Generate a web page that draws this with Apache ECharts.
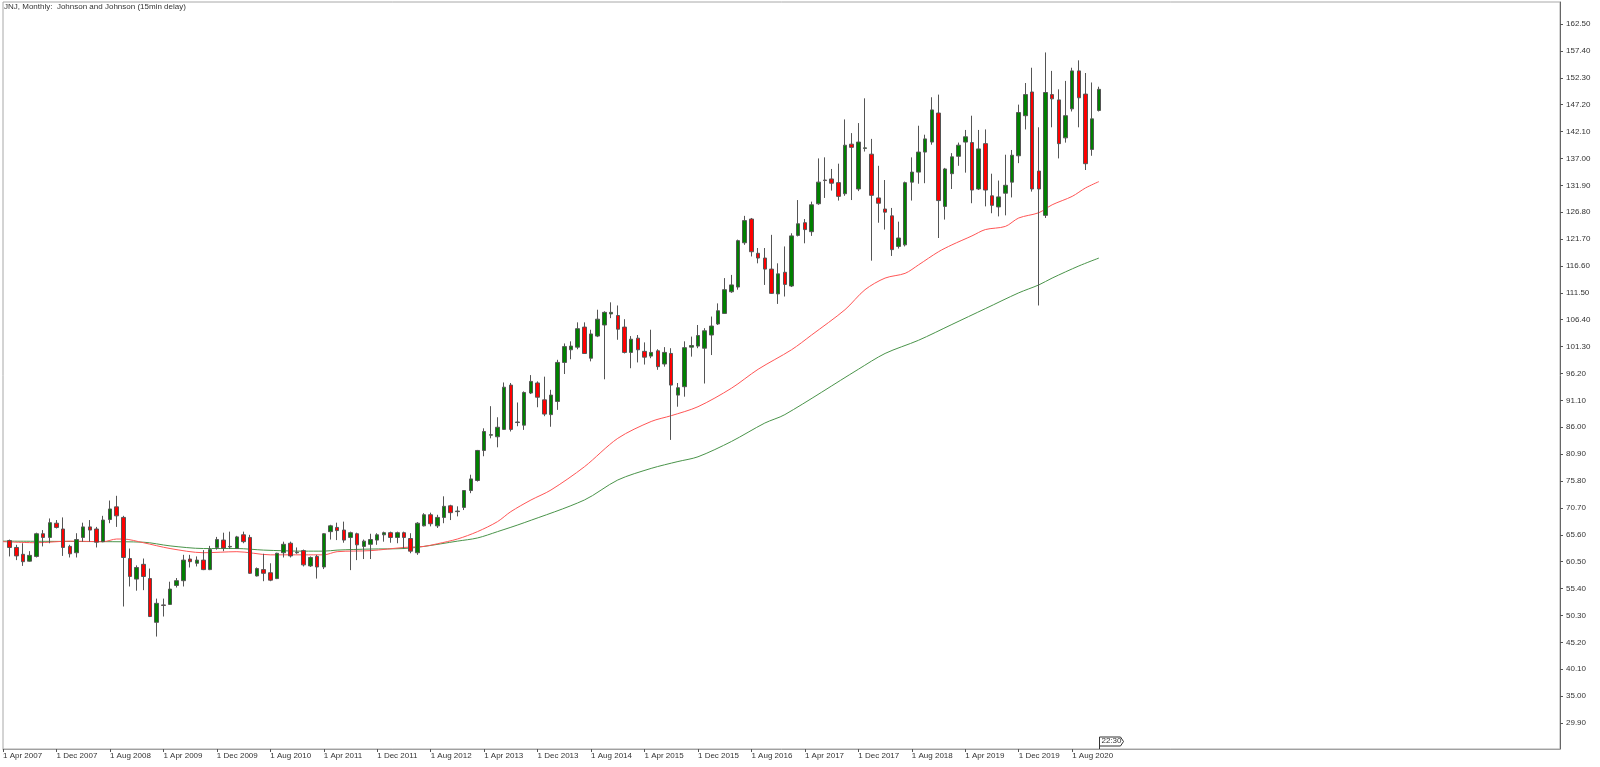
<!DOCTYPE html>
<html><head><meta charset="utf-8">
<script src="https://cdn.jsdelivr.net/npm/echarts@6/dist/echarts.min.js"></script>
<style>html,body{margin:0;padding:0;background:#fff}#c{width:1600px;height:767px}</style>
</head><body><div id="c"></div>
<script>
const titleText = 'JNJ, Monthly:  Johnson and Johnson (15min delay)';
const lastTimeLabel = '22:30';
const monthNames = ['Jan','Feb','Mar','Apr','May','Jun','Jul','Aug','Sep','Oct','Nov','Dec'];
const axisStartYear = 2007, axisStartMonth = 3; // 1 Apr 2007 at the left edge
const axisMonthCount = 234;                      // empty months continue to the right edge
const firstCandleSlot = 1;                       // first candle: May 2007

// Monthly OHLC, May 2007 .. Dec 2020
const opens = [
64.5,63.2,61.9,60.6,61.5,65.8,65.1,67.8,66.7,63.4,
62.2,65.1,67.1,66.7,64.3,68.5,70.9,68.9,61.1,57.2,
60.0,57.3,49.0,52.3,52.4,56.0,56.9,61.0,60.2,60.8,
59.0,63.2,64.6,63.3,63.0,65.6,65.1,57.8,59.0,58.4,
57.3,62.2,64.0,62.2,62.6,59.7,61.5,59.5,66.2,67.0,
66.5,65.1,65.8,63.4,63.8,64.6,65.6,66.0,65.1,66.0,
64.9,62.2,67.3,69.4,67.3,68.9,71.1,70.0,70.8,74.0,
75.9,81.6,84.5,84.2,85.6,94.0,86.9,86.4,92.5,94.4,
91.2,88.4,90.9,98.3,100.7,101.2,105.0,99.1,103.3,105.4,
107.5,107.2,105.0,100.2,102.9,100.4,99.5,100.5,98.0,100.0,
92.1,93.7,101.2,101.4,101.0,103.5,105.6,107.6,111.7,112.6,
121.0,125.5,119.0,118.1,116.0,111.3,115.4,112.8,122.4,124.8,
123.1,128.4,132.9,133.1,132.4,130.3,139.7,131.2,138.9,137.8,
129.5,127.4,126.1,120.3,120.6,132.5,134.4,138.2,140.1,145.6,
127.9,134.1,137.4,140.1,140.0,131.2,139.8,129.9,127.8,130.4,
132.5,137.5,145.1,149.6,134.6,126.2,149.1,148.1,140.9,146.4,
153.6,149.2,138.7,146.1];
const closes = [
63.2,61.6,60.5,61.7,65.8,65.1,67.9,67.0,63.2,62.0,
64.7,67.1,66.5,64.2,68.4,70.5,69.2,61.3,57.7,59.4,
57.7,50.1,52.6,52.2,55.3,56.9,60.8,60.5,60.8,59.0,
62.8,64.7,63.1,63.4,65.2,64.3,58.3,59.2,58.3,57.0,
62.1,63.8,61.6,62.3,59.9,61.3,59.5,65.8,67.3,66.4,
64.6,66.0,63.7,64.4,64.7,65.6,66.0,65.1,66.0,65.1,
62.5,67.8,69.4,67.7,68.9,71.0,69.8,70.1,74.0,76.2,
81.6,85.2,84.6,86.0,93.6,85.6,87.0,92.6,94.7,91.7,
88.5,92.1,98.3,101.3,101.4,104.7,100.0,103.7,106.5,107.8,
107.8,104.6,100.2,102.7,100.7,99.3,100.2,97.5,100.2,94.0,
93.5,101.1,101.5,103.4,104.3,105.2,108.1,112.1,113.0,121.4,
125.2,119.3,118.1,116.0,111.4,115.1,113.1,122.3,124.6,123.5,
128.2,132.5,132.8,132.3,129.8,139.5,139.1,140.1,139.0,130.0,
128.5,126.8,119.7,121.9,132.4,134.4,138.2,140.7,146.2,129.0,
135.0,137.3,139.5,141.1,131.0,138.8,131.0,128.1,129.7,131.9,
137.6,145.7,149.1,131.2,131.2,149.5,148.3,139.8,145.1,153.6,
148.5,136.0,144.5,150.1];
const lows = [
61.5,60.8,59.7,60.5,61.3,63.4,64.0,66.8,61.6,61.3,
61.3,64.3,64.3,63.2,64.2,67.8,67.1,52.0,55.8,55.0,
55.1,50.0,46.3,50.1,52.3,55.6,55.8,59.4,59.6,58.9,
58.9,62.8,62.5,62.9,62.9,64.0,58.2,57.7,56.8,56.8,
57.2,61.3,61.3,62.0,59.6,59.5,57.3,59.1,64.7,64.6,
64.1,58.9,60.8,61.0,61.0,63.7,64.3,64.1,64.0,63.0,
62.1,61.8,67.2,67.2,66.9,67.8,68.4,69.1,70.3,73.5,
75.7,80.5,83.9,82.2,85.5,85.2,86.2,85.5,92.3,89.8,
88.1,86.1,89.3,96.1,98.9,100.8,99.9,98.5,103.1,95.1,
106.7,102.6,100.0,97.2,98.3,97.9,99.1,96.9,97.5,83.6,
89.9,91.8,99.4,101.0,94.3,99.7,105.4,107.5,111.5,112.1,
120.6,118.4,117.1,113.0,111.3,109.4,110.8,112.6,122.2,120.9,
122.3,128.2,129.5,130.9,129.0,129.9,129.1,130.8,138.3,117.6,
124.8,123.5,118.5,119.9,120.3,129.0,132.2,132.3,139.6,121.9,
125.4,131.2,135.6,134.3,128.5,131.0,127.9,126.6,126.0,126.2,
129.6,136.1,142.5,130.7,109.1,125.7,142.9,137.0,140.0,145.9,
142.9,134.8,137.5,145.9];
const highs = [
64.7,63.7,64.0,62.5,66.0,66.5,68.7,68.4,68.9,63.7,
65.9,67.9,68.4,67.1,69.2,72.1,73.0,69.2,63.0,59.8,
61.1,59.2,53.5,53.5,56.7,57.4,61.8,61.8,61.5,62.7,
63.5,65.2,66.0,66.2,65.4,66.2,65.6,59.4,62.0,60.2,
62.2,64.3,64.3,63.2,62.8,61.5,61.8,65.9,67.5,67.9,
68.1,66.2,66.0,64.7,65.8,65.9,66.2,66.2,66.2,66.2,
65.9,68.0,69.7,69.8,69.4,72.9,71.3,71.0,74.1,77.0,
81.7,85.8,90.0,87.9,94.5,94.4,90.7,92.8,95.9,94.7,
95.6,93.1,98.8,101.9,102.3,105.9,105.9,104.5,108.3,108.0,
109.7,109.1,106.5,103.3,103.5,102.1,104.5,100.8,101.2,101.0,
94.4,102.3,103.2,105.4,104.8,107.0,109.5,114.3,114.9,121.6,
126.1,125.7,120.0,120.0,122.5,117.1,120.3,122.8,129.1,125.5,
128.8,137.0,137.2,135.0,136.0,144.4,141.8,143.7,148.4,140.7,
135.6,132.9,127.6,125.0,132.6,137.2,143.2,141.5,148.6,149.1,
135.2,138.0,140.0,142.4,145.1,142.4,142.5,134.1,132.8,137.7,
138.6,147.2,151.3,154.2,142.9,157.1,153.6,150.1,151.7,154.2,
155.6,153.2,151.4,150.6];

// Moving averages at candle indices (0 = May 2007, -1 = Apr 2007)
const redMaIdx = [-1,4,9,14,16,17,20,24,29,34,39,44,47,49,54,59,62,64,67,70,73,75,78,81,86,91,96,99,103,108,112,117,120,125,128,131,134,136,139,141,144,146,149,151,154,156,159,161,163];
const redMaVal = [64.3,64.1,64.4,64.3,64.8,64.8,64.1,63.0,62.2,62.4,61.8,61.8,61.8,62.4,62.6,63.2,63.4,63.9,64.8,66.2,68.1,70.0,72.2,74.1,78.5,83.9,87.1,88.2,89.9,93.4,97.0,100.7,103.5,108.3,112.1,114.3,115.2,116.8,119.3,120.6,122.3,123.5,124.1,125.7,126.7,128.2,129.8,131.4,132.6];
const greenMaIdx = [-1,14,20,24,29,34,38,44,47,49,54,59,62,67,70,73,77,86,91,96,100,103,108,113,116,127,131,136,141,146,151,154,156,160,163];
const greenMaVal = [64.4,64.3,64.2,63.5,63.0,63.0,62.7,62.5,62.5,62.7,62.9,63.0,63.4,64.4,65.0,66.2,67.9,72.2,76.0,78.2,79.5,80.4,83.3,86.8,88.4,97.0,100.0,102.5,105.5,108.5,111.5,113.0,114.3,116.6,118.1];

const yTicks = [29.90,35.00,40.10,45.20,50.30,55.40,60.50,65.60,70.70,75.80,80.90,86.00,91.10,96.20,101.30,106.40,111.50,116.60,121.70,126.80,131.90,137.00,142.10,147.20,152.30,157.40,162.50];
const yMin = 24.97, yMax = 166.67;

// ---- build ----
const categories = [];
for (let k = 0; k < axisMonthCount; k++) {
  const m = axisStartMonth + k;
  categories.push('1 ' + monthNames[m % 12] + ' ' + (axisStartYear + Math.floor(m / 12)));
}
const candleData = categories.map(() => '-');
opens.forEach((o, i) => { candleData[i + firstCandleSlot] = [o, closes[i], lows[i], highs[i]]; });
const lastSlot = opens.length - 1 + firstCandleSlot;
const redData = redMaIdx.map((i, n) => [i + firstCandleSlot, redMaVal[n]]);
const greenData = greenMaIdx.map((i, n) => [i + firstCandleSlot, greenMaVal[n]]);
const showTick = (idx) => idx % 8 === 0 && idx <= lastSlot;

const FONT = 'Liberation Sans';
const chart = echarts.init(document.getElementById('c'), null, {renderer: 'canvas'});
chart.setOption({
  animation: false,
  backgroundColor: '#ffffff',
  grid: {left: 2, right: 40, top: 2, bottom: 18, show: true, borderColor: '#a8a8a8', borderWidth: 1},
  xAxis: {
    type: 'category', data: categories, boundaryGap: false,
    axisLine: {lineStyle: {color: '#a0a0a0', width: 1}},
    axisTick: {interval: showTick, length: 3, lineStyle: {color: '#555'}},
    axisLabel: {interval: showTick, align: 'left', margin: 3, fontSize: 8, color: '#333', fontFamily: FONT},
    splitLine: {show: false}
  },
  yAxis: {
    type: 'value', position: 'right', min: yMin, max: yMax, scale: true,
    axisLine: {show: true, lineStyle: {color: '#666', width: 1}},
    axisTick: {show: true, customValues: yTicks, length: 3, lineStyle: {color: '#555'}},
    axisLabel: {customValues: yTicks, margin: 6, fontSize: 8, color: '#333', fontFamily: FONT,
      formatter: v => v.toFixed(2)},
    splitLine: {show: false}
  },
  series: [
    {type: 'line', data: greenData, showSymbol: false, symbol: 'none', z: 1, smooth: 0.3,
     lineStyle: {color: '#4a944a', width: 1}, silent: true},
    {type: 'line', data: redData, showSymbol: false, symbol: 'none', z: 1, smooth: 0.3,
     lineStyle: {color: '#ff5555', width: 1}, silent: true},
    {type: 'candlestick', data: candleData, barWidth: 4, z: 3,
     itemStyle: {color: '#008000', color0: '#ff0000', borderColor: '#555555', borderColor0: '#555555',
                 borderColorDoji: '#555555', borderWidth: 1}}
  ],
  graphic: [
    {type: 'text', left: 4, top: 3, style: {text: titleText, fontSize: 8, fill: '#333', fontFamily: FONT}}
  ]
});

// current-time marker at the last bar
const px = chart.convertToPixel({xAxisIndex: 0, yAxisIndex: 0}, [lastSlot, yMin]);
const bx = Math.round(px[0]) + 0.5, by = Math.round(px[1]);
chart.setOption({graphic: [
  {type: 'text', left: 4, top: 3, style: {text: titleText, fontSize: 8, fill: '#333', fontFamily: FONT}},
  {type: 'line', shape: {x1: bx, y1: by - 12, x2: bx, y2: by}, style: {stroke: '#333', lineWidth: 1}},
  {type: 'polygon', shape: {points: [[bx, by - 12], [bx + 21, by - 12], [bx + 24, by - 7.5], [bx + 21, by - 3], [bx, by - 3]]},
   style: {fill: '#fff', stroke: '#333', lineWidth: 1}},
  {type: 'text', x: bx + 2, y: by - 12, style: {text: lastTimeLabel, fontSize: 8, fill: '#333', fontFamily: FONT}}
]});
</script>
</body></html>
